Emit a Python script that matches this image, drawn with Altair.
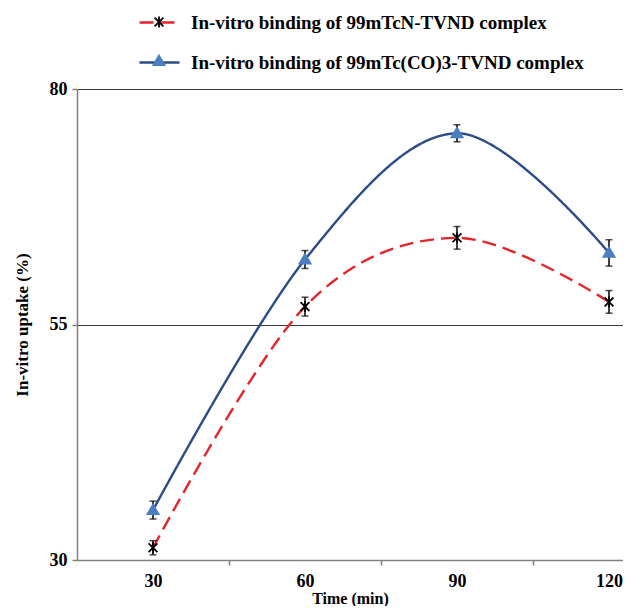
import altair as alt
import pandas as pd

times = [30, 60, 90, 120]
series_names = [
    "In-vitro binding of 99mTcN-TVND complex",
    "In-vitro binding of 99mTc(CO)3-TVND complex",
]
tcn_values = [31.3, 56.9, 64.2, 57.4]
tcn_errors = [0.75, 1.0, 1.2, 1.2]
tcco_values = [35.3, 61.9, 75.3, 62.6]
tcco_errors = [0.95, 0.95, 0.9, 1.4]
y_ticks = [30, 55, 80]
x_tick_values = [30, 45, 60, 75, 90, 105, 120]

rows = []
for name, vals, errs in [(series_names[0], tcn_values, tcn_errors),
                         (series_names[1], tcco_values, tcco_errors)]:
    for t, v, e in zip(times, vals, errs):
        rows.append({"time": t, "uptake": v, "lo": v - e, "hi": v + e,
                     "series": name, "series_m": name})
df = pd.DataFrame(rows)

FONT = "Liberation Serif"
RED = "#e3262b"
NAVY = "#2b4c86"
TRI_BLUE = "#4a7fc1"
star_path = "M-0.22,-0.22L0.22,0.22M-0.22,0.22L0.22,-0.22M0,-0.27L0,0.27"
tri_path = "M0,-0.27L0.28,0.2L-0.28,0.2Z"

x_enc = alt.X(
    "time:Q",
    scale=alt.Scale(domain=[15, 122.76], nice=False, zero=False),
    axis=alt.Axis(
        values=x_tick_values,
        labelExpr="datum.value % 30 == 0 ? datum.label : ''",
        tickOpacity={"condition": {"test": "datum.value % 30 == 0", "value": 0}, "value": 1},
        labelOverlap=False,
        grid=False,
        title="Time (min)",
        tickSize=5,
        tickColor="#808080",
        tickWidth=1.5,
        domainColor="#808080",
        domainWidth=1.5,
        labelFont=FONT, labelFontSize=18, labelFontWeight="bold", labelColor="black",
        labelPadding=7,
        titleFont=FONT, titleFontSize=16, titleFontWeight="bold", titleColor="black",
        titlePadding=0,
    ),
)
y_axis = alt.Axis(
    values=y_ticks,
    title="In-vitro uptake (%)",
    grid=True, gridColor="#3a3a3a", gridWidth=1,
    tickSize=5, tickColor="#808080", tickWidth=1.5,
    domainColor="#808080", domainWidth=1.5,
    labelFont=FONT, labelFontSize=18, labelFontWeight="bold", labelColor="black",
    labelPadding=5,
    titleFont=FONT, titleFontSize=17, titleFontWeight="bold", titleColor="black",
    titlePadding=18,
)
y_scale = alt.Scale(domain=[30, 80], nice=False, zero=False)

base = alt.Chart(df)

legend_common = dict(
    orient="none", legendX=61, legendY=-88, padding=0, title=None,
    labelFont=FONT, labelFontSize=19, labelFontWeight="bold", labelColor="black",
    labelLimit=700, labelOffset=10, rowPadding=8, symbolSize=1600,
)

lines = base.mark_line(interpolate="cardinal", strokeWidth=2.4).encode(
    x=x_enc,
    y=alt.Y("uptake:Q", scale=y_scale, axis=y_axis),
    stroke=alt.Stroke("series:N", scale=alt.Scale(domain=series_names, range=[RED, NAVY]),
                      legend=alt.Legend(symbolType="stroke", symbolStrokeWidth=2.5,
                                        symbolDash=[1, 0], **legend_common)),
    strokeDash=alt.StrokeDash("series:N", scale=alt.Scale(domain=series_names, range=[[14, 7], [1, 0]]),
                              legend=None),
)

err = base.mark_rule(color="black", strokeWidth=1.5).encode(
    x=x_enc, y=alt.Y("lo:Q", scale=y_scale, axis=y_axis), y2="hi:Q"
)
cap_hi = base.mark_tick(orient="horizontal", size=7, thickness=1.5, color="black").encode(
    x=x_enc, y=alt.Y("hi:Q", scale=y_scale, axis=y_axis)
)
cap_lo = base.mark_tick(orient="horizontal", size=7, thickness=1.5, color="black").encode(
    x=x_enc, y=alt.Y("lo:Q", scale=y_scale, axis=y_axis)
)

legend_b = alt.Legend(labelOpacity=0, symbolStrokeWidth=1.8, symbolOpacity=1, **legend_common)
points = base.mark_point(filled=True, size=1600, strokeWidth=1.8, opacity=1).encode(
    x=x_enc,
    y=alt.Y("uptake:Q", scale=y_scale, axis=y_axis),
    shape=alt.Shape("series_m:N", scale=alt.Scale(domain=series_names, range=[star_path, tri_path]),
                    legend=legend_b),
    fill=alt.Fill("series_m:N", scale=alt.Scale(domain=series_names, range=["black", TRI_BLUE]),
                  legend=legend_b),
    stroke=alt.Stroke("series_m:N", scale=alt.Scale(domain=series_names, range=["black", TRI_BLUE]),
                      legend=legend_b),
)

chart = alt.layer(lines, err, cap_hi, cap_lo, points).resolve_scale(
    stroke="independent", shape="independent", fill="independent", strokeDash="independent"
).properties(
    width=546, height=471,
    autosize=alt.AutoSizeParams(type="none"),
    padding={"left": 69, "top": 81, "right": 0, "bottom": 46},
).configure(font=FONT).configure_view(stroke=None).configure_legend(
    labelFont=FONT, labelFontWeight="bold"
).configure_axis(labelFont=FONT, titleFont=FONT)

chart.save("out.html", embed_options={"renderer": "svg", "actions": False})
